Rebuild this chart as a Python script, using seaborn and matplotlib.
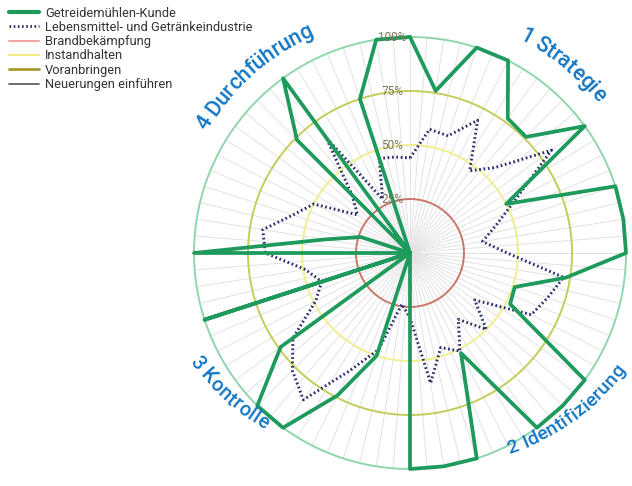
import numpy as np
import pandas as pd
import matplotlib
matplotlib.use("Agg")
import matplotlib.pyplot as plt
import matplotlib.transforms as mtransforms
from matplotlib.lines import Line2D
import seaborn as sns

# ---------------- data ----------------
categories = list(range(1, 41))
getreide = [100, 76, 100, 100, 77, 76, 100, 50, 100, 100,
            100, 73, 51, 52, 100, 100, 100, 52, 100, 100,
            100, 0, 50, 74, 100, 100, 74, 0, 100, 0,
            100, 40, 24, 0, 0, 74, 100, 0, 75, 100]
lebensmittel = [44, 58, 57, 69, 47, 56, 81, 55, 42, 34,
                45, 72, 67, 63, 37, 50, 38, 51, 46, 61,
                30, 24, 47, 61, 84, 77, 67, 49, 43, 49,
                67, 69, 57, 50, 30, 38, 66, 28, 46, 45]
ring_levels = [25, 50, 75, 100]
ring_labels = ["25%", "50%", "75%", "100%"]
legend_labels = ["Getreidemühlen-Kunde", "Lebensmittel- und Getränkeindustrie",
                 "Brandbekämpfung", "Instandhalten", "Voranbringen",
                 "Neuerungen einführen"]
section_labels = ["1 Strategie", "2 Identifizierung", "3 Kontrolle", "4 Durchführung"]

sns.set_theme(style="white")
plt.rcParams['font.family'] = ['Roboto', 'DejaVu Sans']

W, H = 632, 486
fig = plt.figure(figsize=(W / 100, H / 100), dpi=100)
cx, cy, R = 410, 253, 216
ax = fig.add_axes([(cx - R) / W, (H - cy - R) / H, 2 * R / W, 2 * R / H], projection="polar")
ax.set_theta_zero_location("N")
ax.set_theta_direction(-1)
ax.set_ylim(0, 100)
ax.set_xticks([])
ax.set_yticks([])
ax.grid(False)
ax.spines["polar"].set_visible(False)
ax.patch.set_alpha(0)

n = len(categories)
theta = np.deg2rad(np.arange(n) * 360.0 / n)

# spokes
for a in np.deg2rad(np.arange(80) * 4.5):
    ax.plot([a, a], [0, 100], color="#e2e2e2", lw=0.7, zorder=1, clip_on=False)

# rings
ring_colors = ["#c8786a", "#f0ee90", "#c4cc5a", "#8fd6ad"]
tt = np.linspace(0, 2 * np.pi, 400)
for lv, col in zip(ring_levels, ring_colors):
    ax.plot(tt, np.full_like(tt, lv), color=col, lw=1.4, zorder=2, clip_on=False)

# series via seaborn
th_closed = np.append(theta, theta[0])
df = pd.DataFrame({
    "theta": np.concatenate([th_closed, th_closed]),
    "value": np.concatenate([getreide + [getreide[0]], lebensmittel + [lebensmittel[0]]]),
    "series": [legend_labels[0]] * (n + 1) + [legend_labels[1]] * (n + 1),
})
sns.lineplot(data=df[df.series == legend_labels[1]], x="theta", y="value", sort=False,
             estimator=None, ax=ax, color="#2b2f6e", lw=2.1, linestyle=(0, (0.6, 0.9)),
             zorder=4, legend=False)
sns.lineplot(data=df[df.series == legend_labels[0]], x="theta", y="value", sort=False,
             estimator=None, ax=ax, color="#1e9a5c", lw=2.7, zorder=5, legend=False)
for l in ax.lines:
    l.set_clip_on(False)
ax.set_xlabel("")
ax.set_ylabel("")

# ring labels
off = mtransforms.offset_copy(ax.transData, fig=fig, x=-18, y=0, units="dots")
for lv, lab in zip(ring_levels, ring_labels):
    ax.text(0, lv, lab, transform=off, ha="center", va="center", fontsize=8.5,
            color="#77775a", zorder=6, clip_on=False)

# curved labels
fig.canvas.draw()
renderer = fig.canvas.get_renderer()
fw = "medium"
blue = "#1577c4"

def twidth(s, fs):
    t = fig.text(0, 0, s + "|", fontsize=fs, fontweight=fw)
    w = t.get_window_extent(renderer).width
    t.remove()
    t2 = fig.text(0, 0, "|", fontsize=fs, fontweight=fw)
    w2 = t2.get_window_extent(renderer).width
    t2.remove()
    return w - w2

def path_angle(s_px, start_deg, r0, r1, total, sign):
    steps = 200
    ss = np.linspace(0, s_px, steps)
    rr = (r0 + (r1 - r0) * ss / total) / 100 * R
    dth = np.trapezoid(1.0 / rr, ss) if s_px > 0 else 0.0
    return start_deg + sign * np.rad2deg(dth), r0 + (r1 - r0) * s_px / total

def to_px(ang, r):
    a = np.deg2rad(ang)
    rp = r / 100 * R
    return np.array([rp * np.sin(a), rp * np.cos(a)])

def curved(s, start_deg, r0, r1, mode, fs):
    total = twidth(s, fs)
    sign = 1 if mode == "top" else -1
    for i, ch in enumerate(s):
        if ch == " ":
            continue
        pos = (twidth(s[:i], fs) + twidth(s[:i + 1], fs)) / 2
        ang, r = path_angle(pos, start_deg, r0, r1, total, sign)
        a1, q1 = path_angle(max(pos - 1, 0), start_deg, r0, r1, total, sign)
        a2, q2 = path_angle(pos + 1, start_deg, r0, r1, total, sign)
        d = to_px(a2, q2) - to_px(a1, q1)
        rot = np.degrees(np.arctan2(d[1], d[0]))
        ax.text(np.deg2rad(ang), r, ch, fontsize=fs, fontweight=fw, color=blue,
                rotation=rot, rotation_mode="anchor", ha="center", va="center",
                clip_on=False, zorder=7)

def curved_center(s, center_deg, r, mode, fs):
    total = twidth(s, fs)
    half = np.rad2deg(total / 2 / (r / 100 * R))
    start = center_deg - half if mode == "top" else center_deg + half
    curved(s, start, r, r, mode, fs)

curved_center(section_labels[0], 39, 113.5, "top", 15.5)
curved(section_labels[1], 153.5, 101.5, 111.5, "bottom", 14.0)
curved(section_labels[2], 244, 111.5, 103.5, "bottom", 14.5)
curved_center(section_labels[3], 318.5, 112.5, "top", 15.5)

# legend
handles = [
    Line2D([], [], color="#1e9a5c", lw=3.0),
    Line2D([], [], color="#2b2f6e", lw=2.0, linestyle=(0, (0.6, 0.9))),
    Line2D([], [], color="#f4a4a4", lw=1.5),
    Line2D([], [], color="#f2ee88", lw=1.5),
    Line2D([], [], color="#a89a2a", lw=2.0),
    Line2D([], [], color="#555555", lw=1.2),
]
fig.legend(handles, legend_labels, loc="upper left", bbox_to_anchor=(0.0, 1.005),
           frameon=False, fontsize=9.3, handlelength=2.3, handletextpad=0.5,
           labelspacing=0.1, borderaxespad=0.3, labelcolor="#333333")

fig.savefig("out.png", dpi=100, facecolor="white")
